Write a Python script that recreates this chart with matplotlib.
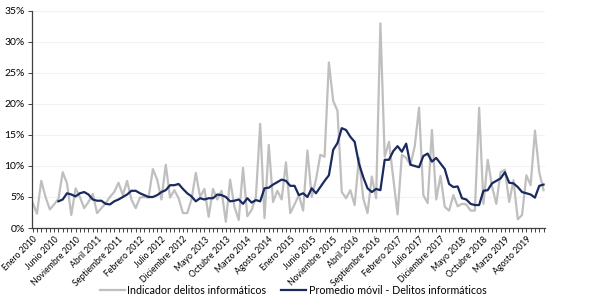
import numpy as np
import matplotlib
matplotlib.use("Agg")
import matplotlib.pyplot as plt

# --- data (monthly, Jan 2010 - Dec 2019), values in % ---
meses = ['Enero', 'Febrero', 'Marzo', 'Abril', 'Mayo', 'Junio', 'Julio',
         'Agosto', 'Septiembre', 'Octubre', 'Noviembre', 'Diciembre']
anios = list(range(2010, 2020))

indicador = [
    4.1, 2.3, 7.6, 5.0, 3.0, 3.8, 4.7, 9.0, 7.2, 2.1, 6.4, 5.0,
    3.2, 4.2, 5.5, 2.4, 3.2, 4.0, 5.0, 5.8, 7.3, 5.3, 7.6, 4.6,
    3.2, 4.9, 5.0, 4.9, 9.5, 7.8, 4.6, 10.2, 4.9, 6.1, 4.8, 2.4,
    2.4, 4.6, 8.9, 5.0, 6.3, 1.8, 6.3, 4.6, 6.0, 1.0, 7.8, 3.4,
    1.3, 9.7, 1.9, 2.9, 5.0, 16.8, 1.6, 13.4, 4.2, 6.0, 4.6, 10.6,
    2.4, 3.8, 5.3, 2.8, 12.5, 5.0, 7.8, 11.8, 11.5, 26.7, 20.5, 18.9,
    5.8, 4.8, 6.1, 3.7, 11.3, 4.8, 2.4, 8.3, 4.8, 33.0, 11.5, 13.9,
    8.0, 2.2, 11.8, 11.3, 10.2, 13.2, 19.4, 5.3, 4.0, 15.8, 4.6, 8.4,
    3.4, 2.8, 5.3, 3.5, 3.9, 3.8, 2.8, 2.8, 19.4, 3.9, 11.0, 6.7,
    3.9, 9.0, 9.4, 4.2, 7.7, 1.4, 2.1, 8.5, 6.9, 15.7, 9.0, 6.1,
]

promedio = [
    np.nan, np.nan, np.nan, np.nan, np.nan, np.nan, 4.3, 4.6, 5.6, 5.4, 5.1, 5.6,
    5.8, 5.4, 4.6, 4.4, 4.4, 3.9, 3.8, 4.3, 4.6, 5.0, 5.4, 6.0,
    6.0, 5.6, 5.3, 5.0, 5.0, 5.3, 5.8, 6.1, 6.9, 6.9, 7.1, 6.3,
    5.6, 5.1, 4.3, 4.8, 4.6, 4.8, 4.8, 5.4, 5.3, 5.0, 4.3, 4.4,
    4.6, 3.9, 4.8, 4.1, 4.5, 4.3, 6.4, 6.5, 7.0, 7.4, 7.8, 7.6,
    6.8, 6.8, 5.3, 5.6, 5.0, 6.4, 5.6, 6.6, 7.6, 8.5, 12.6, 13.7,
    16.1, 15.8, 14.7, 13.9, 10.4, 8.2, 6.4, 5.8, 6.3, 6.1, 11.0, 11.0,
    12.4, 13.2, 12.3, 13.6, 10.2, 10.0, 9.8, 11.6, 12.0, 10.7, 11.3, 10.4,
    9.5, 7.1, 6.6, 6.7, 4.8, 4.6, 3.9, 3.7, 3.7, 6.0, 6.1, 7.2,
    7.6, 8.0, 9.0, 7.3, 7.2, 6.6, 5.8, 5.6, 5.4, 4.9, 6.8, 7.0,
]

etiquetas = [f'{m} {a}' for a in anios for m in meses]

plt.rcParams['font.family'] = ['Lato', 'DejaVu Sans']

fig = plt.figure(figsize=(5.89, 3.04), dpi=100)
ax = fig.add_axes([0.054, 0.25, 0.871, 0.714])

x = np.arange(len(indicador))
ax.plot(x, np.array(indicador) / 100, color='#BFBFBF', lw=1.6,
        label='Indicador delitos informáticos', zorder=2)
ax.plot(x, np.array(promedio) / 100, color='#1B2A5E', lw=1.6,
        label='Promedio móvil - Delitos informáticos', zorder=3)

ax.set_ylim(0, 0.35)
ax.set_yticks(np.arange(0, 0.351, 0.05))
ax.set_yticklabels([f'{int(round(v * 100))}%' for v in np.arange(0, 0.351, 0.05)],
                   fontsize=7.5)
ax.set_xlim(-0.2, len(indicador) - 1 + 0.3)

ax.set_xticks(x[::5])
ax.set_xticklabels(etiquetas[::5], rotation=45, ha='right',
                   rotation_mode='anchor', fontsize=6.2)
ax.set_xticks(x, minor=True)
ax.tick_params(axis='x', which='both', length=3, width=0.7, color='#404040',
               direction='out', pad=2)
ax.tick_params(axis='y', length=3, width=0.7, color='#404040', pad=2)

ax.grid(axis='y', color='#F2F2F2', lw=0.8, zorder=0)
for s in ['top', 'right']:
    ax.spines[s].set_visible(False)
for s in ['left', 'bottom']:
    ax.spines[s].set_color('#404040')
    ax.spines[s].set_linewidth(0.9)

fig.legend(loc='center', bbox_to_anchor=(0.498, 0.045), ncol=2, frameon=False,
           fontsize=7.7, handlelength=2.3, handletextpad=0.25, columnspacing=1.4)

plt.savefig('out.png', dpi=100)
plt.close()
